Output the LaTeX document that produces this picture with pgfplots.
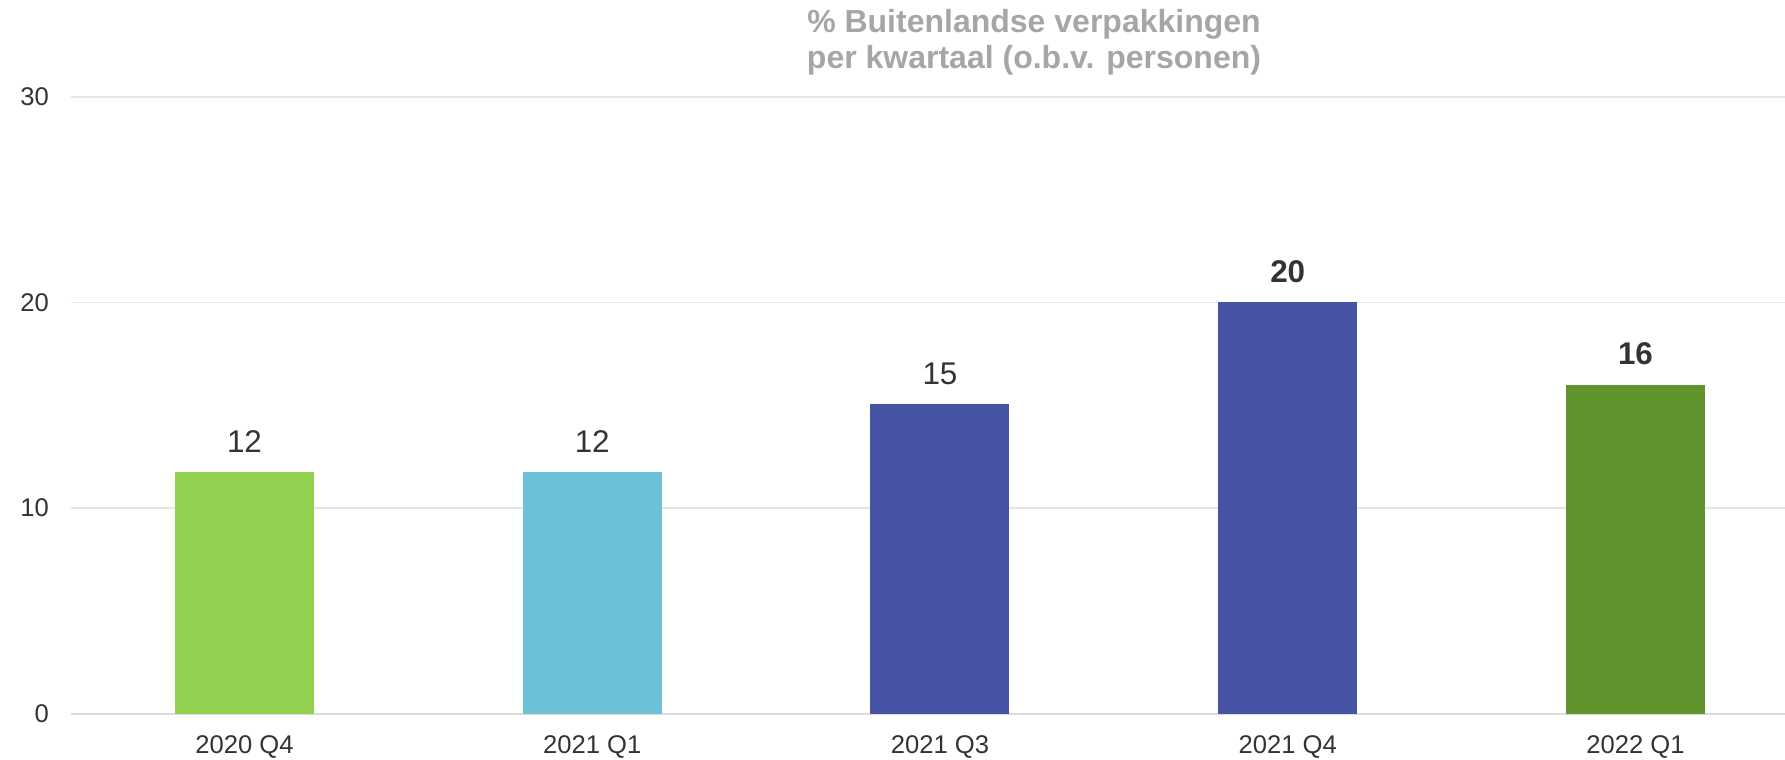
\documentclass[border=0pt]{standalone}
\usepackage{fontspec}
\setmainfont{Liberation Sans}
\usepackage{pgfplots}
\pgfplotsset{compat=1.18}
\definecolor{cGreen}{HTML}{92D050}
\definecolor{cLBlue}{HTML}{6BC2D7}
\definecolor{cDBlue}{HTML}{4753A5}
\definecolor{cDGreen}{HTML}{62942E}
\definecolor{cGrid}{HTML}{E6E6E6}
\definecolor{cAxis}{HTML}{DDDDDD}
\definecolor{cTick}{HTML}{333333}
\definecolor{cTitle}{HTML}{A6A6A6}
\begin{document}
\begin{tikzpicture}
\begin{axis}[
  scale only axis,
  width=857.2pt, height=308.5pt,
  xmin=-0.5, xmax=4.43,
  ymin=0, ymax=30,
  ytick={0,10,20,30},
  xtick={0,1,2,3,4},
  xticklabels={2020 Q4,2021 Q1,2021 Q3,2021 Q4,2022 Q1},
  ymajorgrids,
  grid style={draw=cGrid, line width=0.8pt},
  axis x line*=bottom, axis y line*=left,
  y axis line style={draw=none},
  x axis line style={draw=cAxis, line width=1.2pt, -},
  major tick length=0pt,
  /pgf/number format/assume math mode=true,
  tick label style={font=\fontsize{12.8}{15}\selectfont, text=cTick},
  yticklabel style={xshift=-7.3pt},
  xticklabel style={anchor=base, yshift=-20pt},
  ybar, bar width=69.5pt, bar shift=0pt,
  point meta=explicit symbolic,
  nodes near coords,
  nodes near coords style={anchor=base, yshift=10pt, inner sep=0pt, text=cTick, font=\fontsize{15.7}{18}\selectfont},
  clip=false,
]
\addplot[fill=cGreen, draw=none] coordinates {(0,11.75) [12]};
\addplot[fill=cLBlue, draw=none] coordinates {(1,11.75) [12]};
\addplot[fill=cDBlue, draw=none] coordinates {(2,15.05) [15]};
\addplot[fill=cDBlue, draw=none, nodes near coords style={font=\fontsize{15.7}{18}\selectfont\bfseries}] coordinates {(3,20) [20]};
\addplot[fill=cDGreen, draw=none, nodes near coords style={font=\fontsize{15.7}{18}\selectfont\bfseries}] coordinates {(4,16) [16]};
\end{axis}
\node[anchor=base, text=cTitle, font=\fontsize{16}{18}\selectfont\bfseries] at ([xshift=481.7pt, yshift=32.3pt]current axis.north west) {\% Buitenlandse verpakkingen};
\node[anchor=base, text=cTitle, font=\fontsize{16}{18}\selectfont\bfseries] at ([xshift=481.7pt, yshift=14pt]current axis.north west) {per kwartaal (o.b.v. personen)};
\pgfresetboundingbox
\path ([xshift=-35.3pt,yshift=-22.6pt]current axis.south west) rectangle ([yshift=48.4pt]current axis.north east);
\end{tikzpicture}
\end{document}
